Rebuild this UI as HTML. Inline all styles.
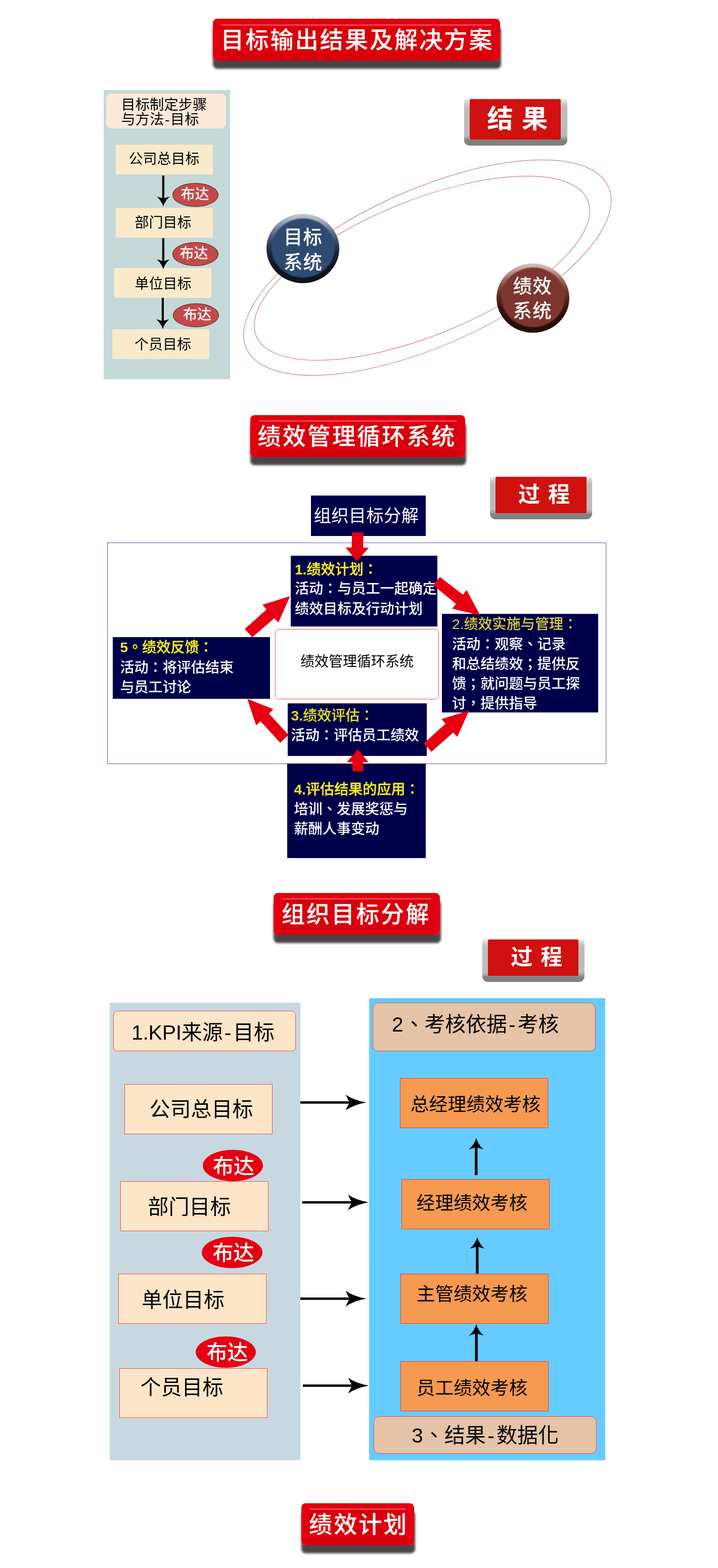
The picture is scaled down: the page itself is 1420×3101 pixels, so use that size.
<!DOCTYPE html>
<html lang="zh-CN">
<head>
<meta charset="utf-8">
<title>目标输出结果及解决方案</title>
<style>
*{box-sizing:border-box;margin:0;padding:0}
html,body{width:1420px;height:3101px;background:#fff;overflow:hidden}
body{font-family:"Liberation Sans","Noto Sans CJK SC",sans-serif;color:#000}
#page{will-change:transform;position:relative;width:1420px;height:3101px;overflow:hidden;background:#fff}
.a{position:absolute}
.t{position:absolute;white-space:nowrap;line-height:1}
/* red title buttons */
.tbtn{position:absolute;height:83px;border-radius:8.5px;color:#fff;font-size:46px;font-weight:500;letter-spacing:3.1px;padding-left:3.1px;padding-top:1px;text-align:center;line-height:82px;white-space:nowrap;
 background:linear-gradient(180deg,rgba(240,70,85,0) 0,#f0465a 40%,#f0465a 60%,rgba(240,70,85,0) 100%) 17px 9.5px/calc(100% - 34px) 5px no-repeat,
 linear-gradient(90deg,#e40010 0,#e40010 12px,rgba(228,0,16,0) 17px,rgba(228,0,16,0) calc(100% - 17px),#e40010 calc(100% - 12px),#e40010 100%),
 linear-gradient(180deg,#dd000d 0,#dd000d 11px,#d9000b 14px,#d9000b 100%);
 box-shadow:.8px 15px 4.5px .3px #4a4446;text-shadow:0 0 1.5px rgba(255,150,150,.7)}
/* key-style buttons */
.kbtn{position:absolute;border-radius:7px 7px 11px 11px;background:linear-gradient(180deg,#fafafa 0,#e2e2e4 5%,#c6c6c8 13%,#bcbcbc 22%,#bcbcbc 78%,#9c9c9c 85%,#808080 89%,#808080 100%)}
.kred{position:absolute;background:#d0110f;border-radius:2.5px}
/* section 1 */
.ybox{position:absolute;background:#faeacb;font-size:27.5px;text-align:center;white-space:nowrap}
.oval1{position:absolute;background:#c44a4a;border:1px solid #4a2020;border-radius:50%;color:#fff;font-size:28px;text-align:center;white-space:nowrap}
/* navy boxes */
.nv{position:absolute;background:#00004a;color:#fff;font-family:"Liberation Sans","Noto Sans CJK TC","Noto Sans CJK SC",sans-serif;font-size:28.1px;font-weight:500;white-space:nowrap}
.nv div{position:absolute;line-height:40px;height:40px}
.nv b{font-weight:700;-webkit-text-stroke:0}
.nv .y{color:#f2ea1f;font-weight:500;-webkit-text-stroke:.35px #f2ea1f}
.ball{position:absolute;border-radius:50%}
.ball i{position:absolute;left:9.5px;right:9px;top:8.6px;bottom:10.8px;border-radius:50%;filter:blur(.9px)}
/* section 3 */
.pbox{position:absolute;background:#fde6c8;border:1px solid #ee4c54;font-size:40px;white-space:nowrap}
.obox{position:absolute;background:#f59a50;border:1px solid #ee4038;font-size:36px;white-space:nowrap}
.oval2{position:absolute;background:#e60012;border-radius:50%;color:#fff;font-size:40px;text-align:center;white-space:nowrap}
</style>
</head>
<body>
<div id="page">
<!--S1-->
<!-- ===== Section 1 ===== -->
<div class="tbtn" style="left:421px;top:37px;width:567.8px">目标输出结果及解决方案</div>

<div class="a" style="left:205px;top:178px;width:250px;height:572px;background:#c5d9d9"></div>
<div class="a" style="left:210px;top:185px;width:236.8px;height:69px;background:#fde9d9;border-radius:10px"></div>
<div class="t" style="left:239.5px;top:192.8px;font-size:28.3px;line-height:29.3px">目标制定步骤<br>与方法<span style="margin:0 1.5px">-</span>目标</div>

<div class="ybox" style="left:228.6px;top:286px;width:192.3px;height:59px"></div>
<div class="ybox" style="left:228.6px;top:410.7px;width:192.3px;height:59.3px"></div>
<div class="ybox" style="left:226.1px;top:530.2px;width:192px;height:58.8px"></div>
<div class="ybox" style="left:221.8px;top:651.2px;width:192.2px;height:58.8px"></div>
<div class="t" style="left:254.5px;top:300.6px;font-size:28px">公司总目标</div>
<div class="t" style="left:266.5px;top:427.4px;font-size:28px">部门目标</div>
<div class="t" style="left:266.5px;top:548px;font-size:28px">单位目标</div>
<div class="t" style="left:266px;top:667.8px;font-size:28px">个员目标</div>

<svg class="a" style="left:0;top:0" width="1420" height="800" viewBox="0 0 1420 800">
 <g fill="#000" stroke="none">
  <path d="M320.8 347.2 L325.0 347.2 L325.0 393.9 L320.8 393.9z"/><path d="M322.9 408.2 Q326.6 396.5 335.6 389.1 Q327.9 390.8 322.9 392.9 Q317.9 390.8 310.1 389.1 Q319.2 396.5 322.9 408.2z"/>
  <path d="M320.8 471.0 L325.0 471.0 L325.0 517.9 L320.8 517.9z"/><path d="M322.9 532.2 Q326.6 520.5 335.6 513.1 Q327.9 514.8 322.9 516.9 Q317.9 514.8 310.1 513.1 Q319.2 520.5 322.9 532.2z"/>
  <path d="M319.8 589.0 L324.0 589.0 L324.0 636.3 L319.8 636.3z"/><path d="M321.9 650.6 Q325.6 638.9 334.6 631.5 Q326.9 633.2 321.9 635.3 Q316.9 633.2 309.1 631.5 Q318.2 638.9 321.9 650.6z"/>
 </g>
 <g fill="none" stroke="#b8676a" stroke-width="1">
  <ellipse cx="0" cy="0" rx="392.07" ry="154.27" transform="translate(845.34 529.29) rotate(-24.07)"/>
  <ellipse cx="0" cy="0" rx="354.24" ry="133.27" transform="translate(834.54 530.41) rotate(-22.22)"/>
 </g>
</svg>

<div class="oval1" style="left:341px;top:361.8px;width:91px;height:47.2px"></div>
<div class="oval1" style="left:341px;top:479.1px;width:91px;height:47.2px"></div>
<div class="oval1" style="left:342px;top:600.2px;width:91px;height:47.2px"></div>
<div class="t" style="left:357.5px;top:370.6px;font-size:28px;font-weight:500;color:#fff">布达</div>
<div class="t" style="left:355.5px;top:487.7px;font-size:28px;font-weight:500;color:#fff">布达</div>
<div class="t" style="left:362px;top:608.7px;font-size:28px;font-weight:500;color:#fff">布达</div>

<div class="kbtn" style="left:917.5px;top:193.7px;width:204px;height:94.3px"></div>
<div class="kred" style="left:929.3px;top:195.7px;width:179.9px;height:80.1px"></div>
<div class="t" style="left:963.2px;top:209.6px;font-size:51.5px;font-weight:700;color:#fff;word-spacing:2.7px">结 果</div>

<div class="ball" style="left:527px;top:423px;width:144px;height:136.8px;background:linear-gradient(180deg,#c3c9d3 0,#aab3c0 8%,#7c889c 20%,#4d5c78 33%,#2a3a58 45%,#1a2438 58%,#10151f 75%,#0e121b 100%)"><i style="background:#2f4a70"></i></div>
<div class="t" style="left:561px;top:445.3px;font-size:37.5px;font-weight:500;letter-spacing:1.1px;line-height:49.5px;color:#fff">目标<br>系统</div>
<div class="ball" style="left:982px;top:520.8px;width:144px;height:136.9px;background:linear-gradient(180deg,#d9c0bf 0,#c9a5a3 8%,#a87572 20%,#854540 33%,#6a2d28 45%,#471a17 58%,#2a0e0c 75%,#260c0a 100%)"><i style="background:#7d3530"></i></div>
<div class="t" style="left:1014.6px;top:541.6px;font-size:37.5px;font-weight:500;letter-spacing:1.1px;line-height:49.5px;color:#fff">绩效<br>系统</div>
<!--/S1-->
<!--S2-->
<!-- ===== Section 2 ===== -->
<div class="tbtn" style="left:494.5px;top:820.5px;width:425px;padding-left:0;padding-right:2px">绩效管理循环系统</div>

<div class="kbtn" style="left:968.6px;top:941px;width:202.8px;height:86px"></div>
<div class="kred" style="left:980.1px;top:942.7px;width:179.6px;height:72.1px"></div>
<div class="t" style="left:1025px;top:957.2px;font-size:43px;font-weight:700;color:#fff;word-spacing:4px">过 程</div>

<div class="a" style="left:212px;top:1073px;width:987px;height:437.5px;border:1px solid #5c5c98;background:#fff"></div>

<div class="nv" lang="zh-TW" style="left:614.6px;top:980px;width:227.6px;height:80px"></div>
<div class="t" style="left:620.5px;top:1003.3px;font-size:34.3px;letter-spacing:.35px;color:#fff;font-weight:400">组织目标分解</div>

<div class="nv" lang="zh-TW" style="left:575px;top:1099px;width:290px;height:139.7px">
 <div class="y" style="left:8px;top:7.7px;color:#f8f01e;-webkit-text-stroke-color:#f8f01e"><b>1.</b>绩效计划：</div>
 <div style="left:8px;top:45.6px">活动：与员工一起确定</div>
 <div style="left:8px;top:85.7px">绩效目标及行动计划</div>
</div>
<div class="nv" lang="zh-TW" style="left:874px;top:1214px;width:309px;height:194.7px">
 <div class="y" style="left:20px;top:1.4px;color:#d8d038;font-weight:500;-webkit-text-stroke:0">2.绩效实施与管理：</div>
 <div style="left:20px;top:40.8px">活动：观察、记录</div>
 <div style="left:20px;top:80.3px">和总结绩效；提供反</div>
 <div style="left:20px;top:118.9px">馈；就问题与员工探</div>
 <div style="left:20px;top:158.2px">讨，提供指导</div>
</div>
<div class="nv" lang="zh-TW" style="left:569px;top:1391px;width:275px;height:103.8px">
 <div class="y" style="left:6.6px;top:4.6px;color:#e4dc22;font-weight:500;-webkit-text-stroke:.2px #e4dc22"><b>3.</b>绩效评估：</div>
 <div style="left:6.6px;top:44px">活动：评估员工绩效</div>
</div>
<div class="nv" lang="zh-TW" style="left:567.5px;top:1510px;width:274.5px;height:186.5px">
 <div class="y" style="left:14px;top:31.9px"><b>4.</b>评估结果的应用：</div>
 <div style="left:14px;top:71.4px">培训、发展奖惩与</div>
 <div style="left:14px;top:110.4px">薪酬人事变动</div>
</div>
<div class="nv" lang="zh-TW" style="left:223px;top:1260px;width:311px;height:121.8px">
 <div class="y" style="left:14.4px;top:1.2px"><b>5</b>。绩效反馈：</div>
 <div style="left:14.4px;top:41.3px">活动：将评估结束</div>
 <div style="left:14.4px;top:79.8px">与员工讨论</div>
</div>

<div class="a" style="left:544px;top:1244px;width:324px;height:138.5px;border:1px solid #ee4e5c;border-radius:7px;background:#fff"></div>
<div class="t" style="left:594px;top:1294.7px;font-size:28px">绩效管理循环系统</div>

<svg class="a" style="left:0;top:1000px" width="1420" height="600" viewBox="0 1000 1420 600">
 <g fill="#e60012" stroke="none">
  <path d="M696.2 1053h22.5l-.4 30l11.3.3l-23.8 26.5l-22.5-27.1l12.3 0z"/>
  <path d="M707.5 1482l21.5 25.5h-11v18h-21v-18h-11z"/>
  <path d="M573.7 1179L519.1 1196.1L527 1205.6L484 1243.9L499 1260.2L542.4 1222.7L550.6 1231.2z"/>
  <path d="M949.7 1217L894.2 1203.7L901.7 1194.3L857.1 1157.5L869.8 1141L915.6 1176L922.7 1166.8z"/>
  <path d="M489.1 1382L540.7 1402.5L532 1411.2L570.7 1453.4L554.2 1468.9L515.3 1426.6L506.4 1434.4z"/>
  <path d="M927.9 1405L873.2 1422.3L881.1 1431.4L838.1 1470L853.2 1486.8L896.6 1448.7L904.5 1457.3z"/>
 </g>
</svg>
<!--/S2-->
<!--S3-->
<!-- ===== Section 3 ===== -->
<div class="tbtn" style="left:541px;top:1765.7px;width:329.4px;padding-left:0;padding-right:2.9px">组织目标分解</div>

<div class="kbtn" style="left:953.6px;top:1855.9px;width:202.9px;height:86px"></div>
<div class="kred" style="left:965.3px;top:1857.7px;width:179.1px;height:72.1px"></div>
<div class="t" style="left:1010.2px;top:1871.5px;font-size:43px;font-weight:700;color:#fff;word-spacing:4px">过 程</div>

<div class="a" style="left:217px;top:1983px;width:377px;height:904.5px;background:#c8d8e0"></div>
<div class="a" style="left:730px;top:1974px;width:467.2px;height:913.5px;background:#66ccff"></div>

<div class="pbox" style="left:224px;top:1999px;width:361px;height:79.5px;border-radius:8px"></div>
<div class="t" style="left:260px;top:2022.3px;font-size:41px"><span style="letter-spacing:-.3px">1.KPI</span>来源<span style="margin:0 3.5px 0 3px">-</span>目标</div>

<div class="pbox" style="left:246px;top:2144px;width:293px;height:99px"></div>
<div class="pbox" style="left:238px;top:2336px;width:293px;height:98.5px"></div>
<div class="pbox" style="left:234px;top:2519px;width:293px;height:98.5px"></div>
<div class="pbox" style="left:236px;top:2705.5px;width:293px;height:98.5px"></div>
<div class="t" style="left:295.5px;top:2174px;font-size:41px">公司总目标</div>
<div class="t" style="left:292.5px;top:2367px;font-size:41px">部门目标</div>
<div class="t" style="left:280px;top:2551px;font-size:41px">单位目标</div>
<div class="t" style="left:277.5px;top:2723.5px;font-size:41px">个员目标</div>

<div class="oval2" style="left:401px;top:2274px;width:119px;height:62px"></div>
<div class="oval2" style="left:399px;top:2446px;width:119.5px;height:62px"></div>
<div class="oval2" style="left:387px;top:2643px;width:119px;height:62px"></div>
<div class="t" style="left:421px;top:2286.5px;font-size:41px;font-weight:500;color:#fff">布达</div>
<div class="t" style="left:420.5px;top:2458px;font-size:41px;font-weight:500;color:#fff">布达</div>
<div class="t" style="left:408.5px;top:2655px;font-size:41px;font-weight:500;color:#fff">布达</div>

<div class="a" style="left:736.8px;top:1983.4px;width:441.5px;height:95.6px;background:#e6c4a8;border:1px solid #ee4c54;border-radius:11px"></div>
<div class="t" lang="zh-TW" style="left:775px;top:2006.2px;font-size:40.8px;font-family:'Liberation Sans','Noto Sans CJK TC',sans-serif">2<span style="margin-left:1px">、</span>考核依据<span style="margin:0 4px 0 3.5px">-</span>考核</div>
<div class="a" style="left:739.1px;top:2801.3px;width:441px;height:74.1px;background:#e6c4a8;border:1px solid #ee4c54;border-radius:11px"></div>
<div class="t" lang="zh-TW" style="left:814px;top:2819.4px;font-size:41px;font-family:'Liberation Sans','Noto Sans CJK TC',sans-serif">3<span style="margin-left:1px">、</span>结果<span style="margin:0 4px 0 3.5px">-</span>数据化</div>

<div class="obox" style="left:791.2px;top:2132px;width:292.8px;height:98.8px"></div>
<div class="obox" style="left:793.9px;top:2331.9px;width:292.8px;height:99.4px"></div>
<div class="obox" style="left:792.1px;top:2519.3px;width:292.8px;height:98.3px"></div>
<div class="obox" style="left:792.1px;top:2692.2px;width:292.8px;height:98.4px"></div>
<div class="t" style="left:811.8px;top:2167.2px;font-size:36.8px">总经理绩效考核</div>
<div class="t" style="left:823.8px;top:2362.3px;font-size:36.6px">经理绩效考核</div>
<div class="t" style="left:823.8px;top:2541.5px;font-size:36.6px">主管绩效考核</div>
<div class="t" style="left:823.8px;top:2727.5px;font-size:36.6px">员工绩效考核</div>

<svg class="a" style="left:0;top:1960px" width="1420" height="960" viewBox="0 1960 1420 960">
 <g fill="#000" stroke="none">
  <path d="M594.0 2182.7 L594.0 2177.9 L692.9 2177.9 L692.9 2182.7z"/><path d="M724.5 2180.3 Q699.7 2175.8 683.8 2164.9 Q687.5 2174.3 691.9 2180.3 Q687.5 2186.3 683.8 2195.7 Q699.7 2184.8 724.5 2180.3z"/>
  <path d="M597.5 2380.2 L597.5 2375.4 L697.4 2375.4 L697.4 2380.2z"/><path d="M729.0 2377.8 Q704.2 2373.3 688.3 2362.4 Q692.0 2371.8 696.4 2377.8 Q692.0 2383.8 688.3 2393.2 Q704.2 2382.3 729.0 2377.8z"/>
  <path d="M594.0 2570.7 L594.0 2565.9 L692.9 2565.9 L692.9 2570.7z"/><path d="M724.5 2568.3 Q699.7 2563.8 683.8 2552.9 Q687.5 2562.3 691.9 2568.3 Q687.5 2574.3 683.8 2583.7 Q699.7 2572.8 724.5 2568.3z"/>
  <path d="M599.0 2742.7 L599.0 2737.9 L697.9 2737.9 L697.9 2742.7z"/><path d="M729.5 2740.3 Q704.7 2735.8 688.8 2724.9 Q692.5 2734.3 696.9 2740.3 Q692.5 2746.3 688.8 2755.7 Q704.7 2744.8 729.5 2740.3z"/>
  <path d="M944.4 2323.9 L939.1 2323.9 L939.1 2267.5 L944.4 2267.5z"/><path d="M941.8 2250.7 Q937.6 2264.3 927.4 2273.0 Q936.2 2271.0 941.8 2268.5 Q947.4 2271.0 956.2 2273.0 Q946.0 2264.3 941.8 2250.7z"/>
  <path d="M946.5 2518.8 L941.2 2518.8 L941.2 2463.8 L946.5 2463.8z"/><path d="M943.9 2447.0 Q939.7 2460.6 929.5 2469.3 Q938.3 2467.3 943.9 2464.8 Q949.5 2467.3 958.3 2469.3 Q948.1 2460.6 943.9 2447.0z"/>
  <path d="M944.8 2692.2 L939.5 2692.2 L939.5 2635.8 L944.8 2635.8z"/><path d="M942.1 2619.0 Q937.9 2632.6 927.7 2641.3 Q936.5 2639.3 942.1 2636.8 Q947.7 2639.3 956.5 2641.3 Q946.3 2632.6 942.1 2619.0z"/>
 </g>
</svg>
<!--/S3-->
<div class="tbtn" style="left:596.2px;top:2972.5px;width:223px">绩效计划</div>
</div>
</body>
</html>
